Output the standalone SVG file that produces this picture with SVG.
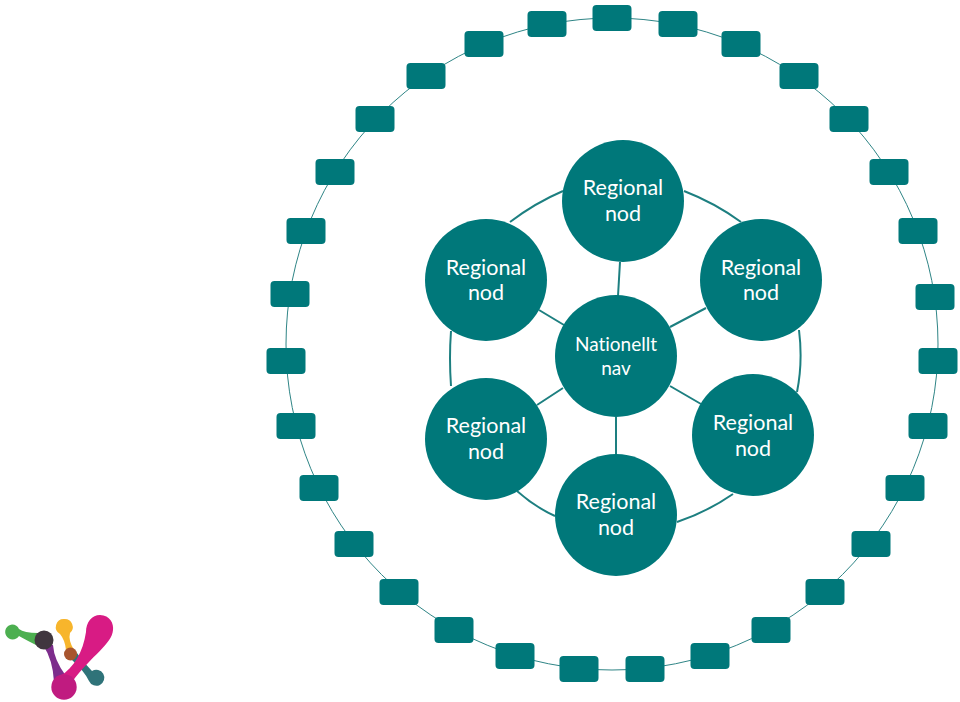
<svg xmlns="http://www.w3.org/2000/svg" width="960" height="702" viewBox="0 0 960 702">
<style>
.n{fill:#00787a}
.l{fill:none;stroke:#1d7f80;stroke-width:2}
.o{fill:none;stroke:#2f8586;stroke-width:1}
text{font-family:"Lato","Open Sans",sans-serif;font-size:21.5px;fill:#fff;text-anchor:middle;font-variant-ligatures:none}
.c{font-size:19px}
</style>
<defs><rect id="b" x="-19.5" y="-13" width="39" height="26" rx="4" class="n"/></defs>
<rect width="960" height="702" fill="#fff"/>
<g id="connectors">
<circle class="o" cx="612" cy="344" r="326"/>
<path class="l" d="M510 222Q535 203 563 191M684 191Q715 203 741 222M799 330Q803 362 797 392M733 494Q707 512 677 522M555 516Q535 507 517 491M451 331Q449 358 451 386"/>
<path class="l" d="M620 262L618 296M539 310L564 325M670 327L706 308M670 386L701 404M563 388L537 405M616 417V455"/>
</g>
<g id="ring">
<use href="#b" x="612" y="18"/><use href="#b" x="678" y="24"/><use href="#b" x="741" y="44"/><use href="#b" x="799" y="76"/><use href="#b" x="849" y="119"/><use href="#b" x="889" y="172"/><use href="#b" x="918" y="231"/><use href="#b" x="935" y="297"/><use href="#b" x="938" y="361"/><use href="#b" x="928" y="426"/><use href="#b" x="905" y="488"/><use href="#b" x="871" y="544"/><use href="#b" x="825" y="592"/><use href="#b" x="771" y="630"/><use href="#b" x="710" y="656"/><use href="#b" x="645" y="669"/><use href="#b" x="579" y="669"/><use href="#b" x="515" y="656"/><use href="#b" x="454" y="630"/><use href="#b" x="399" y="592"/><use href="#b" x="354" y="544"/><use href="#b" x="319" y="488"/><use href="#b" x="296" y="426"/><use href="#b" x="286" y="361"/><use href="#b" x="290" y="294"/><use href="#b" x="306" y="231"/><use href="#b" x="335" y="172"/><use href="#b" x="375" y="119"/><use href="#b" x="426" y="76"/><use href="#b" x="484" y="44"/><use href="#b" x="547" y="24"/>
</g>
<g id="node-top"><circle class="n" cx="623" cy="201" r="61"/><text x="623" y="195">Regional</text><text x="623" y="221">nod</text></g>
<g id="node-upper-left"><circle class="n" cx="486" cy="280" r="61"/><text x="486" y="275">Regional</text><text x="486" y="300">nod</text></g>
<g id="node-upper-right"><circle class="n" cx="761" cy="280" r="61"/><text x="761" y="275">Regional</text><text x="761" y="300">nod</text></g>
<g id="node-center"><circle class="n" cx="616" cy="356" r="61"/><text class="c" x="616" y="351">Nationellt</text><text class="c" x="616" y="375">nav</text></g>
<g id="node-lower-left"><circle class="n" cx="486" cy="439" r="61"/><text x="486" y="433">Regional</text><text x="486" y="459">nod</text></g>
<g id="node-lower-right"><circle class="n" cx="753" cy="435" r="61"/><text x="753" y="430">Regional</text><text x="753" y="456">nod</text></g>
<g id="node-bottom"><circle class="n" cx="616" cy="515" r="61"/><text x="616" y="509">Regional</text><text x="616" y="535">nod</text></g>
<g id="logo">
<path fill="#4caf50" d="M12 624.500A7.500 7.500 0 0 1 19 629Q24 633 38 633L38 646Q26 640 19 636A7.500 7.500 0 1 1 12 624.500Z"/>
<path fill="#f7b52c" d="M64.300 619A8 8 0 0 1 70 633Q68 640 74 650L66 650Q65 640 60 634A8 8 0 0 1 64.300 619Z"/>
<path fill="#2f7379" d="M72 660L77 653Q83 662 92 671A8 8 0 1 1 89 681Q85 672 72 660Z"/>
<path fill="#7d2d8c" d="M43 645L53 645Q54 660 66 676L54 682Q53 660 43 645Z"/>
<path fill="#d81b84" d="M100 615C110 615 114 624 113 630C112 644 92 655 72 682L60 676C74 668 83 652 86 632C86 622 92 615 100 615Z"/>
<circle cx="64" cy="687" r="12.700" fill="#c01b80"/>
<circle cx="44" cy="640" r="9.500" fill="#40363f"/>
<circle cx="70.500" cy="654" r="6.500" fill="#a8552e"/>
</g>
</svg>
